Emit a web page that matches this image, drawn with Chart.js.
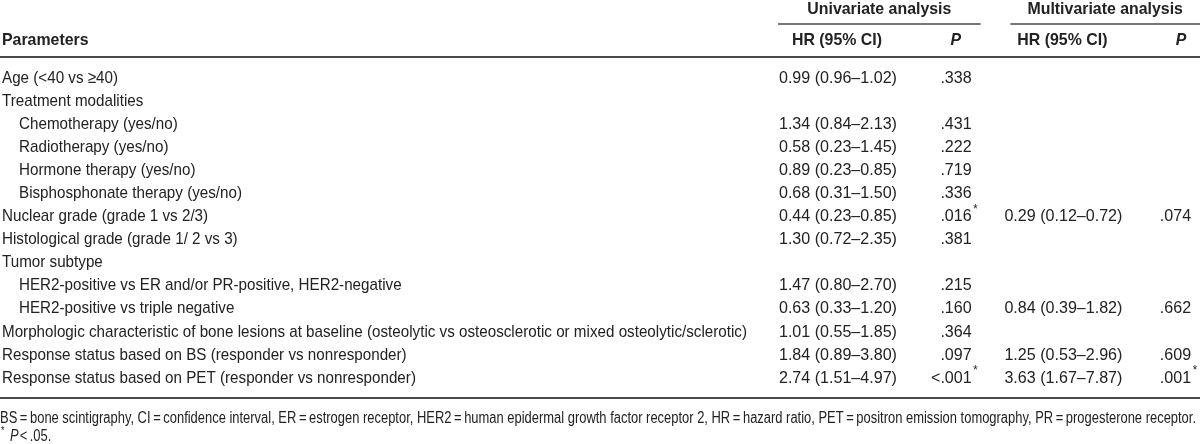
<!DOCTYPE html>
<html>
<head>
<meta charset="utf-8">
<script src="https://cdn.jsdelivr.net/npm/chart.js@4.4.1/dist/chart.umd.min.js"></script>
<style>
  html, body { margin: 0; padding: 0; background: #fff; }
  #wrap { width: 1200px; height: 444px; }
</style>
</head>
<body>
<div id="wrap"><canvas id="myChart" width="1200" height="444"></canvas></div>
<script>
// row labels (level 1 = indented sub-row)
const parameters = [
  "Age (<40 vs \u226540)",
  "Treatment modalities",
  "Chemotherapy (yes/no)",
  "Radiotherapy (yes/no)",
  "Hormone therapy (yes/no)",
  "Bisphosphonate therapy (yes/no)",
  "Nuclear grade (grade 1 vs 2/3)",
  "Histological grade (grade 1/ 2 vs 3)",
  "Tumor subtype",
  "HER2-positive vs ER and/or PR-positive, HER2-negative",
  "HER2-positive vs triple negative",
  "Morphologic characteristic of bone lesions at baseline (osteolytic vs osteosclerotic or mixed osteolytic/sclerotic)",
  "Response status based on BS (responder vs nonresponder)",
  "Response status based on PET (responder vs nonresponder)",
];
const parameterLevel = [0, 0, 1, 1, 1, 1, 0, 0, 0, 1, 1, 0, 0, 0];

// cell values, one array per column ("*" = significant)
const uniHR = ["0.99 (0.96–1.02)", "", "1.34 (0.84–2.13)", "0.58 (0.23–1.45)", "0.89 (0.23–0.85)", "0.68 (0.31–1.50)",
  "0.44 (0.23–0.85)", "1.30 (0.72–2.35)", "", "1.47 (0.80–2.70)", "0.63 (0.33–1.20)", "1.01 (0.55–1.85)",
  "1.84 (0.89–3.80)", "2.74 (1.51–4.97)"];
const uniP = [".338", "", ".431", ".222", ".719", ".336", ".016*", ".381", "", ".215", ".160", ".364", ".097", "<.001*"];
const multiHR = ["", "", "", "", "", "", "0.29 (0.12–0.72)", "", "", "", "0.84 (0.39–1.82)", "",
  "1.25 (0.53–2.96)", "3.63 (1.67–7.87)"];
const multiP = ["", "", "", "", "", "", ".074", "", "", "", ".662", "", ".609", ".001*"];

const columnHeaders = ["HR (95% CI)", "P", "HR (95% CI)", "P"];
const groupHeaders = ["Univariate analysis", "Multivariate analysis"];
const footnote = "BS\u2009=\u2009bone scintigraphy, CI\u2009=\u2009confidence interval, ER\u2009=\u2009estrogen receptor, HER2\u2009=\u2009human epidermal growth factor receptor 2, HR\u2009=\u2009hazard ratio, PET\u2009=\u2009positron emission tomography, PR\u2009=\u2009progesterone receptor.";

const FONT = "'Liberation Sans', Arial, sans-serif";
const TEXT = "#222";
const RULE = "#4a4a4a";

const columns = [uniHR, uniP, multiHR, multiP];

// each column becomes a scatter dataset with invisible points, text is drawn at the point
const datasets = columns.map((col, c) => ({
  label: columnHeaders[c],
  data: col.map((v, i) => ({ x: c, y: parameters[i], text: v })).filter((d) => d.text !== ""),
  pointRadius: 0,
  pointHoverRadius: 0,
}));

// condensed look: draw Liberation Sans squeezed horizontally
const squeeze = {};
function setupSqueeze(ctx) {
  if (squeeze.label) return;
  const fit = (font, text, target) => { ctx.font = font; return target / ctx.measureText(text).width; };
  squeeze.label = fit("17px " + FONT, parameters[11], 745);
  squeeze.value = fit("17px " + FONT, uniHR[0], 118);
  squeeze.bold = fit("bold 17px " + FONT, groupHeaders[0], 144);
  squeeze.foot = fit("16px " + FONT, footnote, 1196);
}

function narrowText(ctx, text, x, y, font, sx, align) {
  ctx.font = font;
  const w = ctx.measureText(text).width * sx;
  const left = align === "center" ? x - w / 2 : align === "right" ? x - w : x;
  ctx.save();
  ctx.translate(left, y);
  ctx.scale(sx, 1);
  ctx.textAlign = "left";
  ctx.textBaseline = "middle";
  ctx.fillText(text, 0, 0);
  ctx.restore();
  return left + w;
}

// value with a raised asterisk for significant results
function drawValue(ctx, text, x, y, align) {
  const star = text.endsWith("*");
  const body = star ? text.slice(0, -1) : text;
  const end = narrowText(ctx, body, x, y, "17px " + FONT, squeeze.value, align);
  if (star) narrowText(ctx, "*", end + 1.5, y - 7, "12px " + FONT, squeeze.value, "left");
}

const pOffset = [0, 19, 0, 13];

const cellText = {
  id: "cellText",
  afterDatasetsDraw(chart) {
    const ctx = chart.ctx;
    setupSqueeze(ctx);
    ctx.save();
    ctx.fillStyle = TEXT;
    chart.data.datasets.forEach((ds, c) => {
      chart.getDatasetMeta(c).data.forEach((pt, j) => {
        const t = ds.data[j].text;
        if (c % 2 === 1) drawValue(ctx, t, pt.x + pOffset[c], pt.y, "right");
        else drawValue(ctx, t, pt.x - 2, pt.y, "center");
      });
    });
    ctx.restore();
  },
};

const tableFrame = {
  id: "tableFrame",
  afterDraw(chart) {
    const ctx = chart.ctx;
    setupSqueeze(ctx);
    const xs = chart.scales.x;
    const ys = chart.scales.y;
    const top = chart.chartArea.top;
    const bottom = chart.chartArea.bottom;
    const W = chart.width;
    const px = (c) => xs.getPixelForValue(c);

    ctx.save();
    ctx.fillStyle = TEXT;
    ctx.strokeStyle = RULE;

    // row labels at the category positions of the y scale
    parameters.forEach((p, i) => {
      const x = 2 + (parameterLevel[i] ? 17 : 0);
      narrowText(ctx, p, x, ys.getPixelForTick(i), "17px " + FONT, squeeze.label, "left");
    });

    // group headers with underline
    const groups = [
      [px(0) - 62, px(1) + 28],
      [px(2) - 55, W],
    ];
    groups.forEach(([l, r], g) => {
      narrowText(ctx, groupHeaders[g], (l + r) / 2, top - 57, "bold 17px " + FONT, squeeze.bold, "center");
      ctx.lineWidth = 1.5;
      ctx.beginPath();
      ctx.moveTo(l, top - 42.5);
      ctx.lineTo(r, top - 42.5);
      ctx.stroke();
    });

    // column headers
    const hy = top - 26;
    narrowText(ctx, "Parameters", 2, hy, "bold 17px " + FONT, squeeze.bold, "left");
    columnHeaders.forEach((h, c) => {
      if (c % 2 === 1) narrowText(ctx, h, px(c) + 3, hy, "italic bold 17px " + FONT, squeeze.bold, "center");
      else narrowText(ctx, h, px(c) - 3, hy, "bold 17px " + FONT, squeeze.bold, "center");
    });

    // rules
    ctx.lineWidth = 2;
    ctx.beginPath();
    ctx.moveTo(0, top - 9.5);
    ctx.lineTo(W, top - 9.5);
    ctx.moveTo(0, bottom + 8.5);
    ctx.lineTo(W, bottom + 8.5);
    ctx.stroke();

    // footnotes
    narrowText(ctx, footnote, 0, bottom + 29, "16px " + FONT, squeeze.foot, "left");
    const fy = bottom + 47;
    narrowText(ctx, "*", 1, fy - 6, "11px " + FONT, squeeze.foot, "left");
    const e = narrowText(ctx, "P", 10, fy, "italic 16px " + FONT, squeeze.foot, "left");
    narrowText(ctx, "<\u2009.05.", e + 1, fy, "16px " + FONT, squeeze.foot, "left");
    ctx.restore();
  },
};

new Chart(document.getElementById("myChart"), {
  type: "scatter",
  data: { datasets },
  options: {
    responsive: false,
    animation: false,
    events: [],
    layout: { padding: { left: 2, right: 0, top: 66.5, bottom: 54.5 } },
    plugins: { legend: { display: false }, tooltip: { enabled: false }, title: { display: false } },
    scales: {
      x: { type: "linear", min: -0.5, max: 3.194, display: false },
      y: {
        type: "category",
        labels: parameters,
        offset: true,
        position: "left",
        grid: { display: false },
        border: { display: false },
        ticks: { display: false, autoSkip: false },
        afterFit: (scale) => { scale.width = 781.6; },
      },
    },
  },
  plugins: [cellText, tableFrame],
});
</script>
</body>
</html>
